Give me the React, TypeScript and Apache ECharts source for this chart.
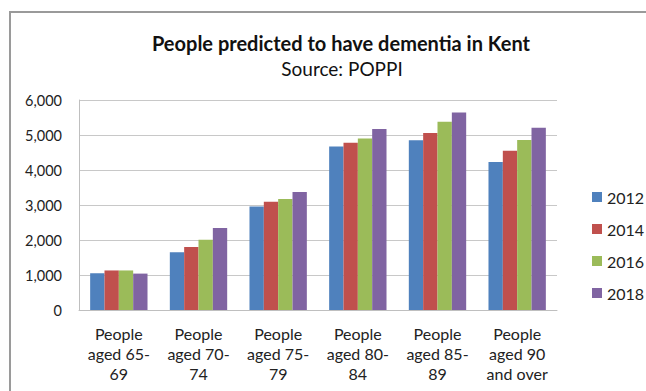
import React, { useEffect, useRef } from "react";
import * as echarts from "echarts";

const categories = [
  "People\naged 65-\n69",
  "People\naged 70-\n74",
  "People\naged 75-\n79",
  "People\naged 80-\n84",
  "People\naged 85-\n89",
  "People\naged 90\nand over",
];
const years = ["2012", "2014", "2016", "2018"];
const values2012 = [1050, 1650, 2960, 4670, 4850, 4230];
const values2014 = [1130, 1800, 3090, 4780, 5060, 4550];
const values2016 = [1130, 2010, 3170, 4900, 5380, 4860];
const values2018 = [1040, 2340, 3370, 5170, 5640, 5210];
const yTicks = [0, 1000, 2000, 3000, 4000, 5000, 6000];
const colors = ["#4F81BD", "#C0504D", "#9BBB59", "#8064A2"];

const FONT = "Lato, 'Open Sans', sans-serif";

export default function App() {
  const ref = useRef<HTMLDivElement>(null);
  useEffect(() => {
    if (!ref.current) return;
    const chart = echarts.init(ref.current, undefined, { renderer: "svg" });
    const seriesValues = [values2012, values2014, values2016, values2018];
    chart.setOption({
      animation: false,
      backgroundColor: "#ffffff",
      title: [
        {
          text: "People predicted to have dementia in Kent",
          left: 336,
          top: 28,
          textAlign: "center",
          textStyle: { fontFamily: FONT, fontSize: 20, fontWeight: "bold", color: "#111" },
        },
        {
          text: "Source: POPPI",
          left: 337,
          top: 54,
          textAlign: "center",
          textStyle: { fontFamily: FONT, fontSize: 19, fontWeight: "normal", color: "#111" },
        },
      ],
      graphic: [
        {
          type: "rect",
          shape: { x: 10, y: 12, width: 700, height: 420 },
          style: { fill: "none", stroke: "#9a9a9a", lineWidth: 2 },
          silent: true,
        },
      ],
      legend: {
        data: years,
        orient: "vertical",
        left: 587,
        top: 184,
        itemWidth: 10,
        itemHeight: 10,
        itemGap: 16,
        icon: "rect",
        textStyle: { fontFamily: FONT, fontSize: 16, color: "#222", lineHeight: 16 },
      },
      grid: { left: 79, right: 89, top: 100, bottom: 81 },
      xAxis: {
        type: "category",
        data: categories,
        axisTick: { show: false },
        axisLine: { lineStyle: { color: "#bfbfbf" } },
        axisLabel: {
          fontFamily: FONT,
          fontSize: 16,
          lineHeight: 20,
          color: "#222",
          margin: 13,
          interval: 0,
        },
      },
      yAxis: {
        type: "value",
        min: 0,
        max: 6000,
        interval: 1000,
        axisLine: { show: true, lineStyle: { color: "#bfbfbf" } },
        axisTick: { show: false },
        splitLine: { lineStyle: { color: "#c8c8c8" } },
        axisLabel: {
          fontFamily: FONT,
          fontSize: 14.5,
          color: "#222",
          margin: 17,
          customValues: yTicks,
          formatter: (v: number) => v.toLocaleString("en-US"),
        },
      },
      series: years.map((y, i) => ({
        name: y,
        type: "bar",
        data: seriesValues[i],
        itemStyle: { color: colors[i] },
        barGap: "0%",
        barCategoryGap: "28%",
      })),
    });
    return () => chart.dispose();
  }, []);
  return <div ref={ref} style={{ width: 646, height: 391, position: "absolute", left: 0, top: 0 }} />;
}
